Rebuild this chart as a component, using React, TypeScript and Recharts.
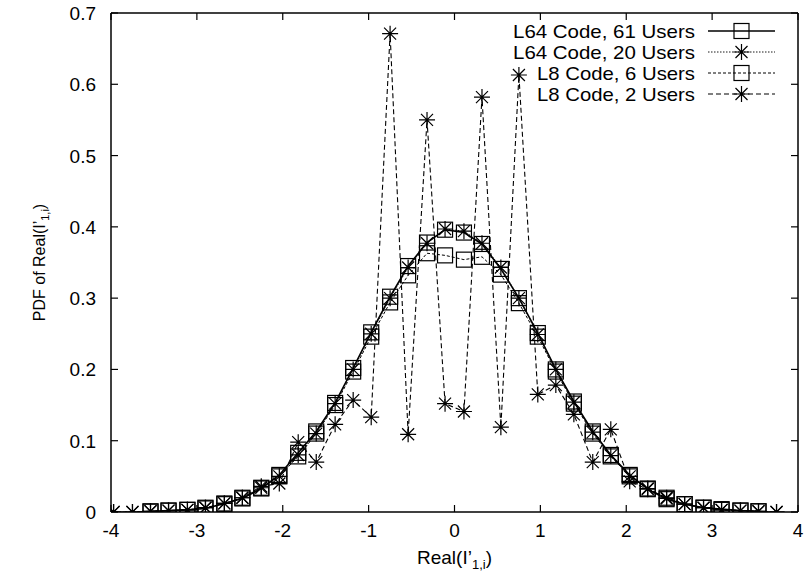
import React from 'react';
import { LineChart, Line, XAxis, YAxis } from 'recharts';

// bin centres on the Real(I'1,i) axis
const binCenters = [
  -3.97, -3.75, -3.54, -3.33, -3.11, -2.9, -2.68, -2.47, -2.25, -2.04,
  -1.82, -1.61, -1.39, -1.18, -0.97, -0.75, -0.54, -0.32, -0.11, 0.11,
  0.32, 0.54, 0.75, 0.97, 1.18, 1.39, 1.61, 1.82, 2.04, 2.25,
  2.47, 2.68, 2.9, 3.11, 3.33, 3.54, 3.75,
];

const l64Users61 = [
  null, null, 0.0005, 0.002, 0.003, 0.005, 0.012, 0.019, 0.033, 0.052,
  0.083, 0.113, 0.153, 0.202, 0.252, 0.302, 0.345, 0.378, 0.396, 0.392,
  0.376, 0.341, 0.3, 0.251, 0.2, 0.155, 0.113, 0.08, 0.052, 0.032,
  0.018, 0.011, 0.006, 0.004, 0.002, 0.001, null,
];

const l64Users20 = [
  0, 0, 0.001, 0.002, 0.003, 0.006, 0.012, 0.02, 0.034, 0.05,
  0.08, 0.11, 0.152, 0.2, 0.25, 0.3, 0.343, 0.377, 0.397, 0.394,
  0.377, 0.343, 0.3, 0.249, 0.2, 0.154, 0.112, 0.079, 0.05, 0.033,
  0.019, 0.011, 0.006, 0.003, 0.002, 0.001, 0,
];

const l8Users6 = [
  null, null, 0.001, 0.002, 0.003, 0.006, 0.011, 0.02, 0.034, 0.05,
  0.078, 0.11, 0.15, 0.197, 0.246, 0.294, 0.332, 0.363, 0.36, 0.354,
  0.358, 0.333, 0.293, 0.246, 0.197, 0.152, 0.11, 0.078, 0.05, 0.033,
  0.02, 0.011, 0.006, 0.003, 0.002, 0.001, null,
];

const l8Users2 = [
  0, 0, 0.001, 0.002, 0.003, 0.006, 0.012, 0.02, 0.036, 0.04,
  0.098, 0.07, 0.123, 0.157, 0.133, 0.671, 0.109, 0.55, 0.152, 0.141,
  0.582, 0.119, 0.613, 0.165, 0.178, 0.137, 0.07, 0.116, 0.043, 0.032,
  0.02, 0.011, 0.006, 0.003, 0.002, 0.001, 0,
];

const seriesNames = ['L64 Code, 61 Users', 'L64 Code, 20 Users', 'L8 Code, 6 Users', 'L8 Code, 2 Users'];
const xTicks = [-4, -3, -2, -1, 0, 1, 2, 3, 4];
const yTicks = [0, 0.1, 0.2, 0.3, 0.4, 0.5, 0.6, 0.7];

const rows = binCenters.map((x, i) => ({
  x,
  s61: l64Users61[i],
  s20: l64Users20[i],
  s6: l8Users6[i],
  s2: l8Users2[i],
}));

const FONT = '"Liberation Sans", Arial, Helvetica, sans-serif';
const INK = '#000';
const W = 804;
const H = 580;
const TOP_H = 13; // height of the (label-less) top axis = plot top
const RIGHT_W = 6; // width of the right axis
const PLOT_TOP = TOP_H;
const PLOT_RIGHT = W - RIGHT_W;

// line / marker look per series (same order as seriesNames)
const looks = [
  { key: 's61', marker: 'square', width: 1.6, dash: undefined },
  { key: 's20', marker: 'star', width: 0.9, dash: '1.5 1.5' },
  { key: 's6', marker: 'square', width: 1, dash: '3 2' },
  { key: 's2', marker: 'star', width: 1.1, dash: '5 3' },
];

function markerShape(kind: string, cx: number, cy: number, k: string) {
  if (kind === 'square') {
    return <rect key={k} x={cx - 7.5} y={cy - 7.5} width={15} height={15} fill="none" stroke={INK} strokeWidth={1.2} />;
  }
  const d = `M${cx - 8},${cy}h16M${cx},${cy - 8}v16M${cx - 6},${cy - 6}l12,12M${cx - 6},${cy + 6}l12,-12`;
  return <path key={k} d={d} fill="none" stroke={INK} strokeWidth={1.2} />;
}

const makeDot = (kind: string) => (p: any) => {
  const k = `${kind}-${p.dataKey}-${p.index}`;
  if (p.cx == null || p.cy == null || Number.isNaN(p.cy)) return <g key={k} />;
  return markerShape(kind, p.cx, p.cy, k);
};

// bottom tick: inward tick on the x axis, its mirror on the top border, and the label
const BottomTick = (p: any) => (
  <g>
    <line x1={p.x} x2={p.x} y1={p.y} y2={p.y - 7} stroke={INK} strokeWidth={1.2} />
    <line x1={p.x} x2={p.x} y1={PLOT_TOP} y2={PLOT_TOP + 7} stroke={INK} strokeWidth={1.2} />
    <text x={p.x} y={p.y + 25} textAnchor="middle" fontSize={19} fontFamily={FONT} fill={INK}>
      {p.payload.value}
    </text>
  </g>
);

// left tick: inward tick on the y axis, its mirror on the right border, and the label
const LeftTick = (p: any) => (
  <g>
    <line x1={p.x} x2={p.x + 7} y1={p.y} y2={p.y} stroke={INK} strokeWidth={1.2} />
    <line x1={PLOT_RIGHT} x2={PLOT_RIGHT - 7} y1={p.y} y2={p.y} stroke={INK} strokeWidth={1.2} />
    <text x={p.x - 15} y={p.y + 7} textAnchor="end" fontSize={19} fontFamily={FONT} fill={INK}>
      {p.payload.value}
    </text>
  </g>
);

const XTitle = (p: any) => {
  const vb = p.viewBox || { x: 111, y: 512, width: 687 };
  return (
    <text x={vb.x + vb.width / 2} y={vb.y + 52} textAnchor="middle" fontSize={19} fontFamily={FONT} fill={INK}>
      Real(I’<tspan fontSize={13} dy={5}>1,i</tspan>
      <tspan dy={-5}>)</tspan>
    </text>
  );
};

const YTitle = (p: any) => {
  const vb = p.viewBox || { x: 0, y: 13, height: 499 };
  const cx = vb.x + 45;
  const cy = vb.y + vb.height / 2;
  return (
    <text
      x={cx}
      y={cy}
      transform={`rotate(-90 ${cx} ${cy})`}
      textAnchor="middle"
      fontSize={16}
      fontFamily={FONT}
      fill={INK}
    >
      PDF of Real(I’<tspan fontSize={11} dy={4}>1,i</tspan>
      <tspan dy={-4}>)</tspan>
    </text>
  );
};

const legendWidths = [182, 182, 158, 158];

function KeyBox() {
  return (
    <svg width={W} height={110} style={{ position: 'absolute', left: 0, top: 0, pointerEvents: 'none' }}>
      {seriesNames.map((name, i) => {
        const cy = 31 + i * 21;
        const look = looks[i];
        return (
          <g key={name}>
            <text
              x={695}
              y={cy + 7}
              textAnchor="end"
              fontSize={19}
              fontFamily={FONT}
              fill={INK}
              textLength={legendWidths[i]}
              lengthAdjust="spacingAndGlyphs"
            >
              {name}
            </text>
            <line x1={708} x2={775} y1={cy} y2={cy} stroke={INK} strokeWidth={look.width} strokeDasharray={look.dash} />
            {markerShape(look.marker, 741.5, cy, `lg-${i}`)}
          </g>
        );
      })}
    </svg>
  );
}

export default function App() {
  return (
    <div style={{ position: 'absolute', left: 0, top: 0, width: W, height: H, background: '#fff' }}>
      <LineChart width={W} height={H} data={rows} margin={{ top: 0, right: 0, bottom: 0, left: 0 }}>
        <XAxis
          xAxisId="b"
          dataKey="x"
          type="number"
          domain={[-4, 4]}
          ticks={xTicks}
          interval={0}
          orientation="bottom"
          height={68}
          tickSize={0}
          tickMargin={0}
          tickLine={false}
          axisLine={{ stroke: INK, strokeWidth: 1.5 }}
          tick={<BottomTick />}
          label={<XTitle />}
          allowDataOverflow
        />
        <XAxis
          xAxisId="t"
          dataKey="x"
          type="number"
          domain={[-4, 4]}
          orientation="top"
          height={TOP_H}
          tick={false}
          tickLine={false}
          axisLine={{ stroke: INK, strokeWidth: 1.5 }}
          allowDataOverflow
        />
        <YAxis
          yAxisId="l"
          type="number"
          domain={[0, 0.7]}
          ticks={yTicks}
          interval={0}
          width={111}
          tickSize={0}
          tickMargin={0}
          tickLine={false}
          axisLine={{ stroke: INK, strokeWidth: 1.5 }}
          tick={<LeftTick />}
          label={<YTitle />}
          allowDataOverflow
        />
        <YAxis
          yAxisId="r"
          orientation="right"
          type="number"
          domain={[0, 0.7]}
          width={RIGHT_W}
          tick={false}
          tickLine={false}
          axisLine={{ stroke: INK, strokeWidth: 1.5 }}
          allowDataOverflow
        />
        {looks.map((look, i) => (
          <Line
            key={look.key}
            xAxisId="b"
            yAxisId="l"
            type="linear"
            dataKey={look.key}
            name={seriesNames[i]}
            stroke={INK}
            strokeWidth={look.width}
            strokeDasharray={look.dash}
            dot={makeDot(look.marker)}
            activeDot={false}
            isAnimationActive={false}
          />
        ))}
      </LineChart>
      <KeyBox />
    </div>
  );
}
